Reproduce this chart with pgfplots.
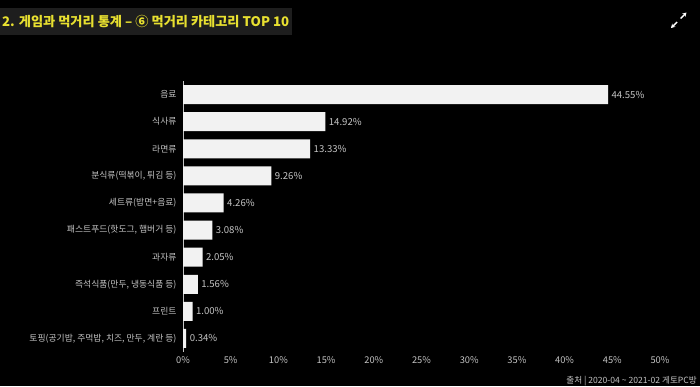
\documentclass[border=0pt]{standalone}
\usepackage{pgfplots}
\pgfplotsset{compat=1.18}
\usepackage{fontspec}
\setmainfont{Noto Sans CJK KR}
\usetikzlibrary{arrows.meta}
\definecolor{titlebg}{HTML}{1E1E1E}
\definecolor{titlefg}{HTML}{E8E030}
\definecolor{lbl}{HTML}{C4C4C4}
\definecolor{barc}{HTML}{F2F2F2}
\begin{document}
\begin{tikzpicture}[x=1pt,y=1pt]
\useasboundingbox (0,0) rectangle (700,386);
\fill[black] (0,0) rectangle (700,386);
\fill[titlebg] (0,351) rectangle (292,378);
\node[anchor=west,text=titlefg,inner sep=0pt] at (2,364.5) {\fontsize{13.2}{15}\selectfont\bfseries 2. 게임과 먹거리 통계 – ⑥ 먹거리 카테고리 TOP 10};
\draw[white,line width=1.4pt,-{Stealth[length=4pt,width=4.5pt]}] (680.5,367.5) -- (686.5,373.5);
\draw[white,line width=1.4pt,-{Stealth[length=4pt,width=4.5pt]}] (677,364) -- (671,358);
\begin{axis}[
  at={(183pt,34pt)}, anchor=south west,
  scale only axis, width=477pt, height=271pt,
  xmin=0, xmax=50, ymin=-0.5, ymax=9.5,
  y dir=reverse,
  xbar, bar width=19pt,
  axis lines*=left,
  x axis line style={draw=none},
  y axis line style={draw=lbl, line width=0.6pt},
  major tick length=0pt,
  xtick={0,5,...,50},
  xticklabel={\pgfmathprintnumber{\tick}\%},
  ytick={0,...,9},
  yticklabels={음료,식사류,라면류,{분식류(떡볶이, 튀김 등)},{세트류(밥면+음료)},{패스트푸드(핫도그, 햄버거 등)},과자류,{즉석식품(만두, 냉동식품 등)},프린트,{토핑(공기밥, 주먹밥, 치즈, 만두, 계란 등)}},
  xticklabel style={text=lbl, font=\fontsize{9.3}{10}\selectfont, yshift=-1pt},
  yticklabel style={text=lbl, font=\fontsize{8.8}{10}\selectfont, xshift=-3pt},
  /pgf/number format/assume math mode=true,
  nodes near coords={\pgfmathprintnumber[fixed,fixed zerofill,precision=2]{\pgfplotspointmeta}\%},
  nodes near coords style={text=lbl, font=\fontsize{9.6}{10}\selectfont, anchor=west, xshift=0pt},
  clip=false,
]
\addplot[fill=barc, draw=none] coordinates {
(44.55,0) (14.92,1) (13.33,2) (9.26,3) (4.26,4) (3.08,5) (2.05,6) (1.56,7) (1.00,8) (0.34,9)
};
\end{axis}
\node[anchor=base east,text=lbl,inner sep=0pt] at (697,3) {\fontsize{8.6}{10}\selectfont 출처 | 2020-04 \textasciitilde{} 2021-02 게토PC방};
\end{tikzpicture}
\end{document}
